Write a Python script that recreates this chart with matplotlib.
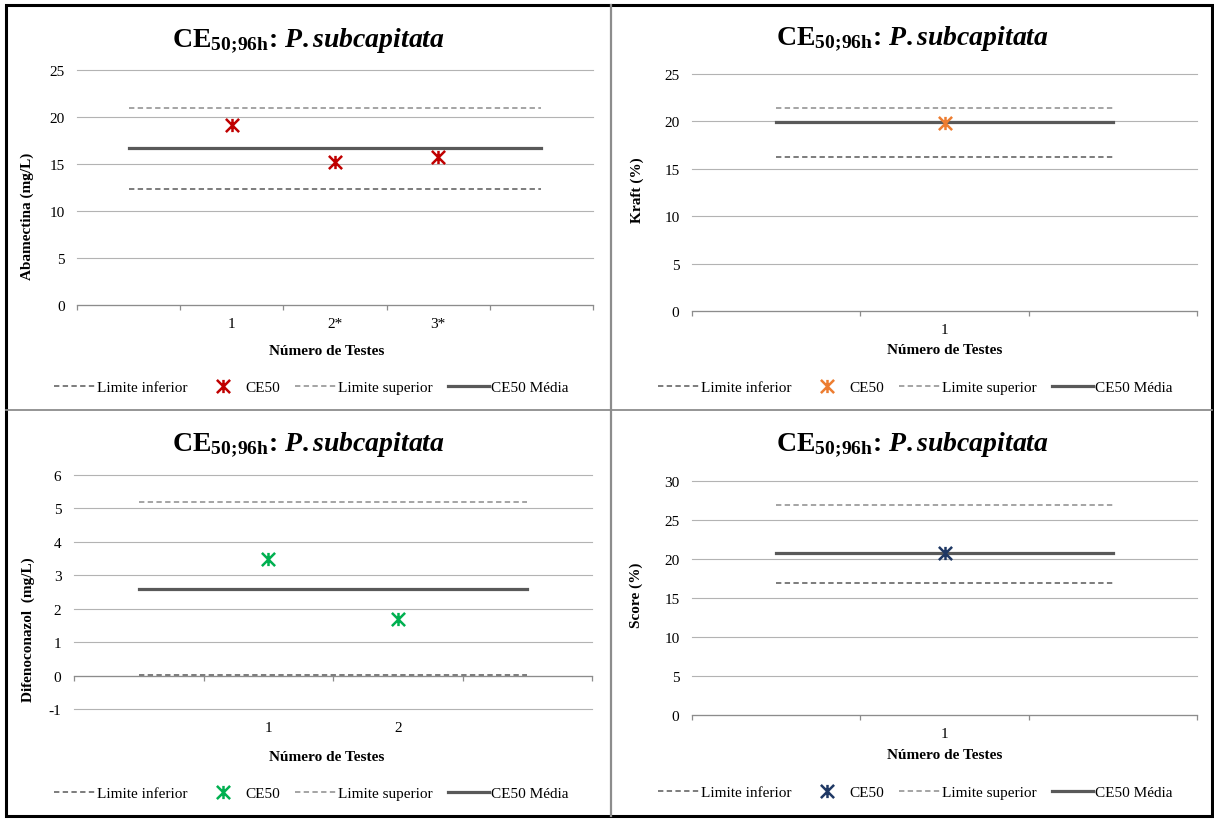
import numpy as np
import matplotlib
matplotlib.use("Agg")
import matplotlib.pyplot as plt
from matplotlib.path import Path
from matplotlib.lines import Line2D
from matplotlib.patches import Rectangle

# Abamectina
cat_abam = ["", "1", "2*", "3*", ""]
ce50_abam = [np.nan, 19.2, 15.2, 15.7, np.nan]
media_abam = [16.7, 16.7, 16.7, 16.7, 16.7]
inf_abam = [12.3, 12.3, 12.3, 12.3, 12.3]
sup_abam = [21.0, 21.0, 21.0, 21.0, 21.0]
yticks_abam = [0, 5, 10, 15, 20, 25]

# Kraft
cat_kraft = ["", "1", ""]
ce50_kraft = [np.nan, 19.8, np.nan]
media_kraft = [19.9, 19.9, 19.9]
inf_kraft = [16.2, 16.2, 16.2]
sup_kraft = [21.4, 21.4, 21.4]
yticks_kraft = [0, 5, 10, 15, 20, 25]

# Difenoconazol
cat_dif = ["", "1", "2", ""]
ce50_dif = [np.nan, 3.5, 1.7, np.nan]
media_dif = [2.6, 2.6, 2.6, 2.6]
inf_dif = [0.02, 0.02, 0.02, 0.02]
sup_dif = [5.2, 5.2, 5.2, 5.2]
yticks_dif = [-1, 0, 1, 2, 3, 4, 5, 6]

# Score
cat_score = ["", "1", ""]
ce50_score = [np.nan, 20.8, np.nan]
media_score = [20.8, 20.8, 20.8]
inf_score = [16.9, 16.9, 16.9]
sup_score = [26.9, 26.9, 26.9]
yticks_score = [0, 5, 10, 15, 20, 25, 30]

plt.rcParams["font.family"] = "Liberation Serif"
plt.rcParams["axes.unicode_minus"] = False
plt.rcParams["mathtext.fontset"] = "custom"
plt.rcParams["mathtext.rm"] = "Liberation Serif:bold"
plt.rcParams["mathtext.it"] = "Liberation Serif:italic:bold"
plt.rcParams["mathtext.bf"] = "Liberation Serif:bold"

W, H = 1214, 820
TITULO = r"CE$_{\mathrm{50;\!96h}}$: $\mathit{P.subcapitata}$"

# marcador estrela do Excel (X com traço vertical)
estrela = Path([(-1, -1), (1, 1), (-1, 1), (1, -1), (0, -1), (0, 1)],
               [Path.MOVETO, Path.LINETO, Path.MOVETO, Path.LINETO, Path.MOVETO, Path.LINETO])


def caixa(l, t, r, b):
    return [l / W, 1 - b / H, (r - l) / W, (b - t) / H]


def painel(fig, box, cats, ce50, media, inf, sup, yticks, cor, ylabel,
           titulo_xy, xlabel_xy, ylabel_xy, legenda_xy, eixo_zero=False):
    ax = fig.add_axes(caixa(*box))
    x = np.arange(len(cats))
    ax.plot(x, inf, color="#595959", lw=1.1, ls=(0, (3.5, 2.2)), label="Limite inferior")
    ax.plot(x, ce50, ls="none", marker=estrela, ms=9.5, mew=1.8, color=cor, label="CE50", zorder=5)
    ax.plot(x, sup, color="#8c8c8c", lw=1.1, ls=(0, (3.5, 2.2)), label="Limite superior")
    ax.plot(x, media, color="#595959", lw=2.3, label="CE50 Média")

    ax.set_xlim(-0.5, len(cats) - 0.5)
    ax.set_ylim(yticks[0], yticks[-1])
    ax.set_yticks(yticks)
    ax.yaxis.grid(True, color="#b3b3b3", lw=0.8)
    for g in ax.get_ygridlines():
        g.set_clip_on(False)
    ax.set_axisbelow(True)
    for s in ["top", "right", "left"]:
        ax.spines[s].set_visible(False)
    ax.spines["bottom"].set_color("#8c8c8c")
    ax.spines["bottom"].set_linewidth(0.9)
    ax.tick_params(axis="y", length=0, pad=9, labelsize=11)

    ax.set_xticks(np.arange(len(cats) + 1) - 0.5, minor=True)
    ax.tick_params(axis="x", which="minor", length=3.5, width=0.9, color="#8c8c8c", direction="out")
    if eixo_zero:
        # eixo horizontal cruza em y = 0, rótulos ficam em baixo
        ax.spines["bottom"].set_position(("data", 0))
        ax.set_xticks(x)
        ax.tick_params(axis="x", which="major", length=0, labelbottom=False)
        sec = ax.secondary_xaxis("bottom")
        sec.set_xticks(x, cats)
        sec.spines["bottom"].set_visible(False)
        sec.tick_params(length=0, pad=9, labelsize=11)
    else:
        ax.set_xticks(x, cats)
        ax.tick_params(axis="x", which="major", length=0, pad=9, labelsize=11)

    fig.text(titulo_xy[0] / W, 1 - titulo_xy[1] / H, TITULO, ha="center", va="baseline",
             fontsize=20, fontweight="bold")
    fig.text(xlabel_xy[0] / W, 1 - xlabel_xy[1] / H, "Número de Testes", ha="center",
             va="center", fontsize=11, fontweight="bold")
    fig.text(ylabel_xy[0] / W, 1 - ylabel_xy[1] / H, ylabel, ha="center", va="center",
             rotation=90, fontsize=11, fontweight="bold")
    ax.legend(loc="center", bbox_to_anchor=(legenda_xy[0] / W, 1 - legenda_xy[1] / H),
              bbox_transform=fig.transFigure, ncol=4, frameon=False, fontsize=11,
              handlelength=2.7, handletextpad=0.1, columnspacing=1.0, numpoints=1)
    return ax


fig = plt.figure(figsize=(W / 100, H / 100), dpi=100)

painel(fig, (77, 71, 593, 306), cat_abam, ce50_abam, media_abam, inf_abam, sup_abam,
       yticks_abam, "#c00000", "Abamectina (mg/L)", (308, 47), (327, 352), (27, 216), (311, 388))
painel(fig, (692, 75, 1197, 312), cat_kraft, ce50_kraft, media_kraft, inf_kraft, sup_kraft,
       yticks_kraft, "#ed7d31", "Kraft (%)", (912, 45), (945, 351), (637, 190), (915, 388))
painel(fig, (74, 476, 592, 710), cat_dif, ce50_dif, media_dif, inf_dif, sup_dif,
       yticks_dif, "#00b050", "Difenoconazol  (mg/L)", (308, 451), (327, 758), (28, 630), (311, 794),
       eixo_zero=True)
painel(fig, (692, 482, 1197, 716), cat_score, ce50_score, media_score, inf_score, sup_score,
       yticks_score, "#1f3864", "Score (%)", (912, 451), (945, 756), (636, 595), (915, 793))

# molduras dos quatro gráficos
fig.add_artist(Line2D([611 / W, 611 / W], [1 - 6 / H, 1 - 817 / H], color="#8c8c8c", lw=1.6))
fig.add_artist(Line2D([6 / W, 1212 / W], [1 - 411 / H, 1 - 411 / H], color="#8c8c8c", lw=1.3))
fig.add_artist(Rectangle((6 / W, 1 - 817 / H), 1206 / W, 811 / H, transform=fig.transFigure,
                         fill=False, edgecolor="black", lw=2.2))

fig.savefig("out.png", dpi=100)
